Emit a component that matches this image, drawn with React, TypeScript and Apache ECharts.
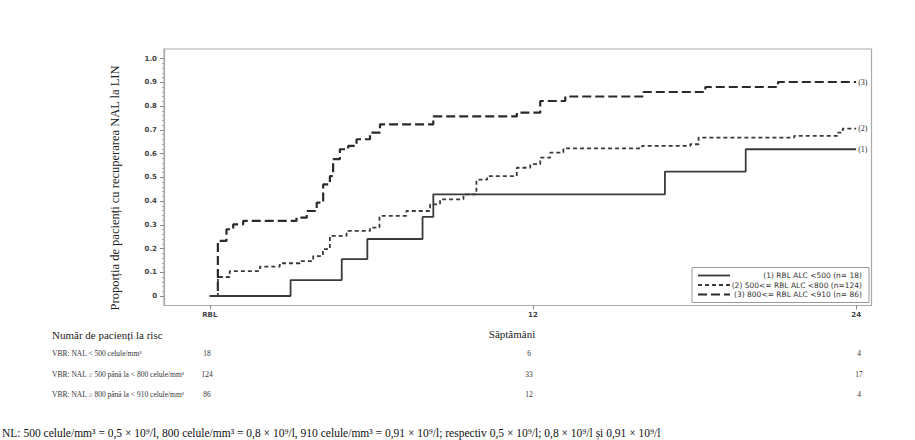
import React, { useEffect, useRef } from "react";
import * as echarts from "echarts";

// Kaplan-Meier style step data (weeks, cumulative proportion)
const weeks1 = [0, 3.0, 4.9, 5.85, 7.9, 8.3, 16.9, 19.9, 24];
const prop1 = [0, 0.067, 0.155, 0.24, 0.333, 0.428, 0.524, 0.618, 0.618];

const weeks2 = [0, 0.3, 0.74, 1.86, 2.6, 3.35, 3.84, 4.2, 4.46, 5.08, 5.95, 6.3, 7.3, 8.18, 8.55, 9.42, 9.9, 10.3, 11.4, 11.9, 12.27, 12.64, 13.13, 16.05, 17.84, 18.15, 21.7, 23.3, 23.5, 24];
const prop2 = [0, 0.08, 0.105, 0.124, 0.138, 0.147, 0.168, 0.197, 0.253, 0.274, 0.288, 0.337, 0.358, 0.386, 0.407, 0.428, 0.49, 0.505, 0.54, 0.555, 0.583, 0.604, 0.622, 0.632, 0.639, 0.667, 0.674, 0.688, 0.705, 0.705];

const weeks3 = [0, 0.3, 0.62, 0.87, 1.24, 3.22, 3.6, 3.97, 4.21, 4.46, 4.58, 4.83, 5.14, 5.45, 5.95, 6.32, 8.3, 11.4, 12.27, 13.2, 16.1, 18.4, 21.1, 24];
const prop3 = [0, 0.232, 0.281, 0.302, 0.316, 0.33, 0.358, 0.393, 0.47, 0.505, 0.576, 0.618, 0.632, 0.66, 0.688, 0.723, 0.756, 0.772, 0.821, 0.84, 0.859, 0.88, 0.901, 0.901];

const seriesNames = [
  "(1) RBL ALC <500 (n= 18)",
  "(2) 500<= RBL ALC <800 (n=124)",
  "(3) 800<= RBL ALC <910 (n= 86)",
];
const endTags = ["(1)", "(2)", "(3)"];

const yTicks = [0, 0.1, 0.2, 0.3, 0.4, 0.5, 0.6, 0.7, 0.8, 0.9, 1.0];
const yMinorTicks = [0.02, 0.04, 0.06, 0.08, 0.12, 0.14, 0.16, 0.18, 0.22, 0.24, 0.26, 0.28, 0.32, 0.34, 0.36, 0.38, 0.42, 0.44, 0.46, 0.48, 0.52, 0.54, 0.56, 0.58, 0.62, 0.64, 0.66, 0.68, 0.72, 0.74, 0.76, 0.78, 0.82, 0.84, 0.86, 0.88, 0.92, 0.94, 0.96, 0.98];
const xTicks = [0, 12, 24];
const xTickLabels = ["RBL", "12", "24"];

const riskRowLabels = [
  "VBR: NAL < 500 celule/mm³",
  "VBR: NAL ≥ 500 până la < 800 celule/mm³",
  "VBR: NAL ≥ 800 până la < 910 celule/mm³",
];
const riskCounts = [
  ["18", "6", "4"],
  ["124", "33", "17"],
  ["86", "12", "4"],
];

const yTitle = "Proporția de pacienți cu recuperarea NAL la LIN";
const xTitle = "Săptămâni";
const riskTitle = "Număr de pacienți la risc";
const footNote =
  "NL: 500 celule/mm³ = 0,5 × 10⁹/l, 800 celule/mm³ = 0,8 × 10⁹/l, 910 celule/mm³ = 0,91 × 10⁹/l; respectiv 0,5 × 10⁹/l; 0,8 × 10⁹/l și 0,91 × 10⁹/l";

const zip = (a: number[], b: number[]) => a.map((v, i) => [v, b[i]]);

export default function App() {
  const ref = useRef<HTMLDivElement>(null);
  useEffect(() => {
    if (!ref.current) return;
    const chart = echarts.init(ref.current, undefined, { renderer: "svg" });
    const serif = "Liberation Serif";
    const sans = "DejaVu Sans";
    const styles = [
      { type: "solid", width: 1.8, color: "#3a3a3a" },
      { type: [4, 3], width: 1.8, color: "#3a3a3a" },
      { type: [9, 4], width: 2.2, color: "#2a2a2a" },
    ];
    const data = [zip(weeks1, prop1), zip(weeks2, prop2), zip(weeks3, prop3)];

    const colX = [207, 529, 859];
    const rowY = [353, 374, 394];

    const graphics: any[] = [];
    graphics.push({
      type: "text",
      x: 115,
      y: 188,
      rotation: Math.PI / 2,
      style: { text: yTitle, font: `12.5px "${serif}"`, fill: "#222", align: "center", verticalAlign: "middle" },
    });
    graphics.push({
      type: "text",
      x: 512,
      y: 334,
      style: { text: xTitle, font: `11px "${serif}"`, fill: "#222", align: "center", verticalAlign: "middle" },
    });
    graphics.push({
      type: "text",
      x: 52,
      y: 335,
      style: { text: riskTitle, font: `11px "${serif}"`, fill: "#222", align: "left", verticalAlign: "middle" },
    });
    riskRowLabels.forEach((lab, i) => {
      graphics.push({
        type: "text",
        x: 52,
        y: rowY[i],
        style: { text: lab, font: `7.5px "${serif}"`, fill: "#333", align: "left", verticalAlign: "middle" },
      });
      riskCounts[i].forEach((c, j) => {
        graphics.push({
          type: "text",
          x: colX[j],
          y: rowY[i],
          style: { text: c, font: `7.5px "${serif}"`, fill: "#333", align: "center", verticalAlign: "middle" },
        });
      });
    });
    graphics.push({
      type: "text",
      x: 2,
      y: 427,
      style: { text: footNote, font: `11.5px "${serif}"`, fill: "#111", align: "left", verticalAlign: "top" },
    });
    // legend box
    graphics.push({
      type: "rect",
      shape: { x: 692, y: 267.5, width: 177, height: 35 },
      style: { fill: "#fff", stroke: "#999", lineWidth: 1 },
      z: 10,
    });
    const legY = [275.5, 285, 294.5];
    seriesNames.forEach((n, i) => {
      graphics.push({
        type: "line",
        shape: { x1: 698, y1: legY[i], x2: 730, y2: legY[i] },
        style: { stroke: styles[i].color, lineWidth: styles[i].width, lineDash: styles[i].type === "solid" ? null : styles[i].type },
        z: 11,
      });
      graphics.push({
        type: "text",
        x: 862,
        y: legY[i],
        style: { text: n, font: `7.5px "${sans}"`, fill: "#333", align: "right", verticalAlign: "middle" },
        z: 11,
      });
    });

    chart.setOption({
      animation: false,
      grid: {
        left: 164,
        right: 915 - 871.5,
        top: 49,
        bottom: 440 - 305.5,
        show: true,
        borderColor: "#aaa",
        borderWidth: 1.2,
      },
      xAxis: {
        type: "value",
        min: -1.7,
        max: 24.57,
        splitLine: { show: false },
        axisLine: { show: true, onZero: false, lineStyle: { color: "#aaa", width: 1.2 } },
        axisTick: { show: true, customValues: xTicks, length: 4, lineStyle: { color: "#888" } },
        axisLabel: {
          customValues: xTicks,
          formatter: (v: number) => xTickLabels[xTicks.indexOf(Math.round(v))] ?? "",
          fontSize: 7,
          fontFamily: sans,
          fontWeight: "bold",
          color: "#444",
          margin: 6,
        },
      },
      yAxis: [
        {
          type: "value",
          min: -0.04,
          max: 1.04,
          splitLine: { show: false },
          axisLine: { show: true, onZero: false, lineStyle: { color: "#aaa", width: 1.2 } },
          axisTick: { show: true, customValues: yTicks, length: 4, lineStyle: { color: "#888" } },
          axisLabel: {
            customValues: yTicks,
            formatter: (v: number) => (Math.abs(v) < 1e-9 ? "0" : v.toFixed(1)),
            fontSize: 7,
            fontFamily: sans,
            fontWeight: "bold",
            color: "#444",
            margin: 7,
          },
        },
        {
          type: "value",
          min: -0.04,
          max: 1.04,
          position: "left",
          splitLine: { show: false },
          axisLine: { show: false, onZero: false },
          axisTick: { show: true, customValues: yMinorTicks, length: 2, lineStyle: { color: "#aaa" } },
          axisLabel: { show: false },
        },
      ],
      series: data.map((d, i) => ({
        name: seriesNames[i],
        type: "line",
        step: "end",
        data: d,
        showSymbol: false,
        symbol: "none",
        lineStyle: { color: styles[i].color, width: styles[i].width, type: styles[i].type },
        endLabel: {
          show: true,
          formatter: () => endTags[i],
          fontSize: 8,
          fontFamily: serif,
          color: "#333",
          distance: 2,
        },
        z: 3 - i,
      })),
      graphic: graphics,
    });
    return () => chart.dispose();
  }, []);
  return <div ref={ref} style={{ position: "fixed", left: 0, top: 0, width: 915, height: 440, background: "#fff" }} />;
}
